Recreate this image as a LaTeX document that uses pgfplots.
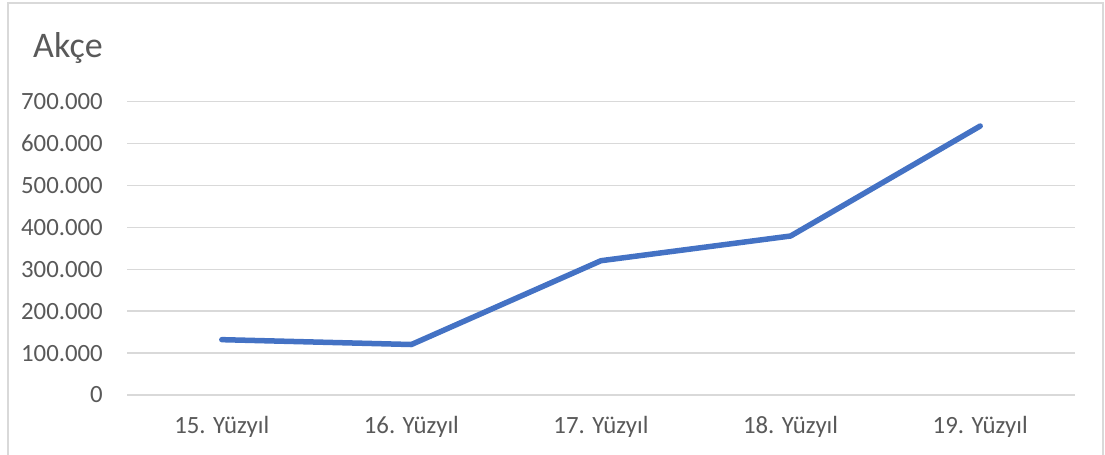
\documentclass[border=0pt]{standalone}
\usepackage{fontspec}
\setmainfont{Carlito}
\usepackage{pgfplots}
\pgfplotsset{compat=1.18}
\definecolor{linblue}{HTML}{4472C4}
\definecolor{gridgray}{HTML}{D9D9D9}
\definecolor{txtgray}{HTML}{595959}
\begin{document}
\begin{tikzpicture}
\useasboundingbox (0,0) rectangle (1105bp,455bp);
\draw[gridgray, line width=1.2bp] (8bp,0) -- (8bp,452bp) -- (1103bp,452bp) -- (1103bp,0);
\node[anchor=base west, inner sep=0pt, text=txtgray, font=\fontsize{36bp}{42bp}\selectfont] at (33bp,397bp) {Akçe};
\begin{axis}[
  at={(127bp,60bp)}, anchor=south west,
  scale only axis, width=948bp, height=293.5bp,
  xmin=-0.5, xmax=4.5, ymin=0, ymax=700000,
  axis line style={draw=none},
  ymajorgrids, grid style={gridgray, line width=1.3bp},
  major tick length=0pt,
  xtick={0,1,2,3,4},
  xticklabels={15. Yüzyıl,16. Yüzyıl,17. Yüzyıl,18. Yüzyıl,19. Yüzyıl},
  ytick={0,100000,...,700000},
  scaled y ticks=false,
  /pgf/number format/.cd, fixed, 1000 sep={.}, assume math mode=true,
  /pgfplots/.cd,
  ticklabel style={text=txtgray, font=\fontsize{24.8bp}{29bp}\selectfont},
  xticklabel style={anchor=base, inner sep=0pt, yshift=-38bp},
  yticklabel style={anchor=east, inner sep=0pt, xshift=-24bp},
  clip=false,
]
\addplot[linblue, line width=5.5bp, line cap=round, line join=round] coordinates {
  (0,132000) (1,120400) (2,320300) (3,379200) (4,641500)
};
\end{axis}
\end{tikzpicture}
\end{document}
